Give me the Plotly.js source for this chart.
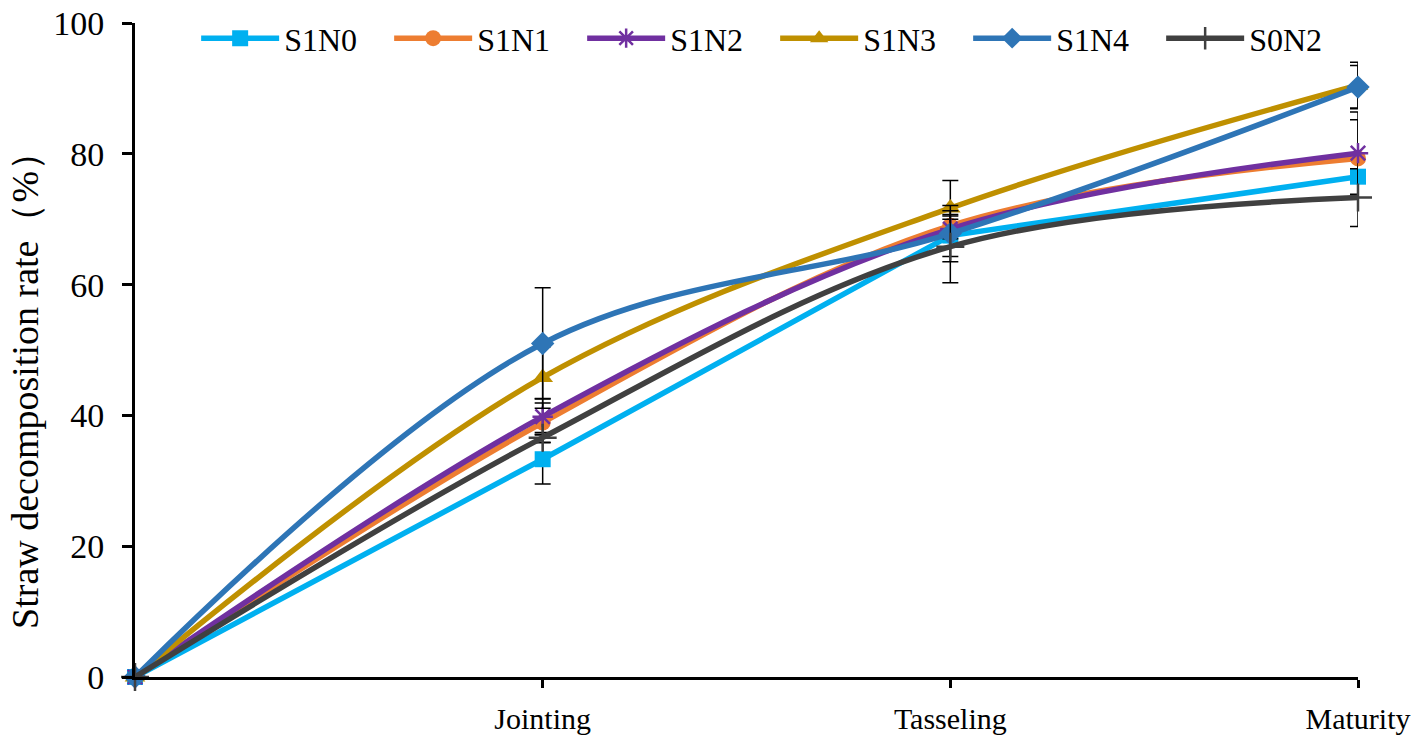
<!DOCTYPE html>
<html>
<head>
<meta charset="utf-8">
<script src="https://cdn.plot.ly/plotly-3.0.1.min.js"></script>
<style>html,body{margin:0;padding:0;background:#fff;}#chart{width:1421px;height:742px;}</style>
</head>
<body>
<div id="chart"></div>
<script>
// Data
const stages = ["", "Jointing", "Tasseling", "Maturity"];
const seriesNames = ["S1N0", "S1N1", "S1N2", "S1N3", "S1N4", "S0N2"];
const S1N0 = [0, 33.3, 67.5, 76.5];
const S1N1 = [0, 38.9, 69.0, 79.3];
const S1N2 = [0, 39.8, 68.5, 80.1];
const S1N3 = [0, 45.8, 71.7, 90.5];
const S1N4 = [0, 51.0, 67.8, 90.2];
const S0N2 = [0, 36.6, 65.8, 73.3];
const S1N0_err = [0, 3.8, 3.2, 3.0];
const S1N1_err = [0, 3.0, 1.5, 5.9];
const S1N2_err = [0, 2.8, 1.5, 6.3];
const S1N3_err = [0, 4.7, 4.2, 3.5];
const S1N4_err = [0, 8.5, 4.3, 3.3];
const S0N2_err = [0, 0.8, 5.5, 4.4];
const yTitle = "Straw decomposition rate（%）";

const values = [S1N0, S1N1, S1N2, S1N3, S1N4, S0N2];
const errors = [S1N0_err, S1N1_err, S1N2_err, S1N3_err, S1N4_err, S0N2_err];
const colors = ["#00B0F0", "#ED7D31", "#7030A0", "#BF9000", "#2E75B6", "#404040"];
const symbols = ["square", "circle", "asterisk-open", "triangle-up", "diamond", "cross-thin-open"];
const sizes = [16, 16, 17, 18, 18, 20];
const shapes = ["linear", "spline", "spline", "spline", "spline", "spline"];
const xIdx = stages.map((s, i) => i);

const FONT = "Liberation Serif, Times New Roman, serif";

const traces = seriesNames.map((name, k) => ({
  type: "scatter",
  mode: "lines+markers",
  name: name,
  x: xIdx,
  y: values[k],
  cliponaxis: false,
  line: {color: colors[k], width: 5.5, shape: shapes[k], smoothing: 1},
  marker: {symbol: symbols[k], size: sizes[k], color: colors[k],
           line: {color: colors[k], width: (k === 2 || k === 5) ? 2.5 : 0}},
  error_y: {type: "data", array: errors[k], visible: true, color: "#000", thickness: 1.5, width: 8}
}));

const layout = {
  width: 1421, height: 742,
  margin: {l: 135, r: 63, t: 22, b: 65},
  paper_bgcolor: "#fff", plot_bgcolor: "#fff",
  font: {family: FONT, color: "#000", size: 30},
  showlegend: true,
  legend: {
    orientation: "h", x: 0.05, xanchor: "left", y: 0.975, yanchor: "middle",
    font: {family: FONT, size: 32, color: "#000"},
    itemwidth: 78, bgcolor: "rgba(0,0,0,0)", tracegroupgap: 0,
    entrywidth: 100, entrywidthmode: "pixels"
  },
  xaxis: {
    range: [0, 3], showgrid: false, zeroline: false, automargin: false,
    showline: true, linecolor: "#000", linewidth: 3,
    tickmode: "array", tickvals: xIdx.slice(1), ticktext: stages.slice(1),
    ticks: "outside", ticklen: 8, tickwidth: 3, tickcolor: "#000",
    ticklabelstandoff: 5,
    tickfont: {family: FONT, size: 30, color: "#000"}
  },
  yaxis: {
    range: [0, 100], dtick: 20, showgrid: false, zeroline: false, automargin: false,
    showline: true, linecolor: "#000", linewidth: 3,
    ticks: "outside", ticklen: 10, tickwidth: 3, tickcolor: "#000",
    ticklabelstandoff: 11,
    tickfont: {family: FONT, size: 34, color: "#000"}
  },
  annotations: [{
    text: yTitle, textangle: -90, showarrow: false,
    xref: "paper", yref: "paper", x: -0.0895, y: 0.452,
    xanchor: "center", yanchor: "middle",
    font: {family: FONT, size: 38, color: "#000"}
  }]
};

Plotly.newPlot("chart", traces, layout, {displayModeBar: false, staticPlot: true});
</script>
</body>
</html>
